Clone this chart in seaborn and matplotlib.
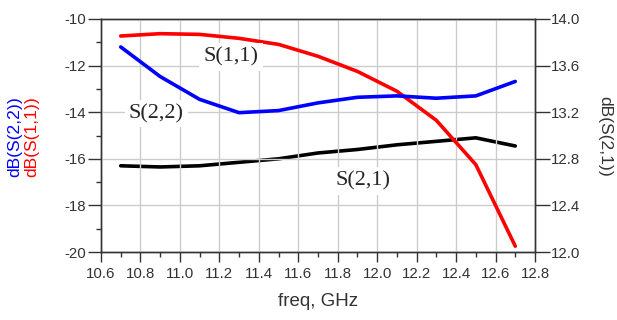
import matplotlib
matplotlib.use("Agg")
import matplotlib.pyplot as plt
from matplotlib.ticker import MultipleLocator
import seaborn as sns
import pandas as pd

freq = [10.7, 10.9, 11.1, 11.3, 11.5, 11.7, 11.9, 12.1, 12.3, 12.5, 12.7]
s11 = [-10.73, -10.63, -10.66, -10.83, -11.09, -11.6, -12.25, -13.1, -14.35, -16.25, -19.75]
s22 = [-11.2, -12.47, -13.45, -14.02, -13.93, -13.6, -13.36, -13.3, -13.4, -13.3, -12.68]
s21 = [12.74, 12.73, 12.74, 12.77, 12.80, 12.85, 12.88, 12.92, 12.95, 12.98, 12.91]

xticks = [10.6, 10.8, 11.0, 11.2, 11.4, 11.6, 11.8, 12.0, 12.2, 12.4, 12.6, 12.8]
left_ticks = [-20, -18, -16, -14, -12, -10]
right_ticks = [12.0, 12.4, 12.8, 13.2, 13.6, 14.0]

df = pd.DataFrame({"freq": freq, "s11": s11, "s22": s22, "s21": s21})

sns.set_style("white")
plt.rcParams["font.family"] = ["Liberation Sans", "DejaVu Sans"]

fig = plt.figure(figsize=(6.17, 3.2), dpi=100)
ax = fig.add_axes([101/617, 1-252/320, (535-101)/617, (252-19)/320])
ax2 = ax.twinx()

lw = 2.6
sns.lineplot(data=df, x="freq", y="s11", ax=ax, color="#ff0000", lw=lw, zorder=3)
sns.lineplot(data=df, x="freq", y="s22", ax=ax, color="#0000ff", lw=lw, zorder=3)
sns.lineplot(data=df, x="freq", y="s21", ax=ax2, color="#000000", lw=lw, zorder=3)

ax.set_xlim(10.6, 12.8)
ax.set_ylim(-20, -10)
ax2.set_ylim(12.0, 14.0)
ax.set_xticks(xticks)
ax.set_xticklabels([f"{t:.1f}" for t in xticks])
ax.set_yticks(left_ticks)
ax.set_yticklabels([str(t) for t in left_ticks])
ax2.set_yticks(right_ticks)
ax2.set_yticklabels([f"{t:.1f}" for t in right_ticks])
ax.xaxis.set_minor_locator(MultipleLocator(0.1))
ax.yaxis.set_minor_locator(MultipleLocator(1))

ax.grid(True, which="major", color="#cccccc", lw=1.0)
ax.set_axisbelow(True)
ax.set_xlabel("")
ax.set_ylabel("")
ax2.set_ylabel("")

for a in (ax, ax2):
    for s in a.spines.values():
        s.set_color("#333333")
        s.set_linewidth(1.0)
        s.set_visible(True)

tc = "#333333"
fs = 10.8
ax.tick_params(axis="x", which="major", direction="out", length=7.5, width=1, color=tc,
               labelsize=fs, labelcolor=tc, pad=3, bottom=True)
ax.tick_params(axis="x", which="minor", direction="out", length=3.5, width=1, color=tc, bottom=True)
ax.tick_params(axis="y", which="major", direction="out", length=9.5, width=1, color=tc,
               labelsize=fs, labelcolor=tc, pad=1.5, left=True)
ax.tick_params(axis="y", which="minor", direction="out", length=3.5, width=1, color=tc, left=True)
ax2.tick_params(axis="y", which="major", direction="out", length=10.5, width=1, color=tc,
                labelsize=fs, labelcolor=tc, pad=1.0, right=True)

serif = ["Liberation Serif", "DejaVu Serif"]
box = dict(facecolor="white", edgecolor="none", pad=3)
ax.text(11.26, -11.63, "S(1,1)", family=serif, fontsize=16, ha="center", va="center",
        bbox=box, zorder=10)
ax.text(10.88, -14.05, "S(2,2)", family=serif, fontsize=16, ha="center", va="center",
        bbox=box, zorder=10)
ax.text(11.93, -16.95, "S(2,1)", family=serif, fontsize=16, ha="center", va="center",
        bbox=box, zorder=10)
ax.set_zorder(ax2.get_zorder() + 1)
ax.patch.set_visible(False)

fig.text(15/617, 1-137/320, "dB(S(2,2))", rotation=90, color="#0000ff", fontsize=12.6,
         ha="center", va="center")
fig.text(32/617, 1-137/320, "dB(S(1,1))", rotation=90, color="#ff0000", fontsize=12.6,
         ha="center", va="center")
fig.text(605/617, 1-136/320, "dB(S(2,1))", rotation=270, color="#333333", fontsize=12.6,
         ha="center", va="center")
fig.text(318/617, 1-301/320, "freq, GHz", color="#333333", fontsize=13.5,
         ha="center", va="center")

fig.savefig("out.png", dpi=100)
